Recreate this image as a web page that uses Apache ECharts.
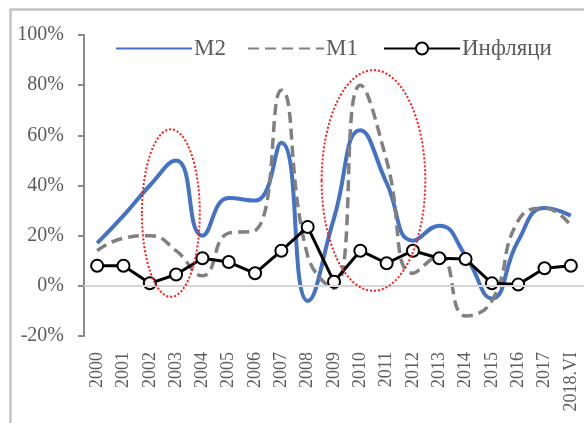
<!DOCTYPE html>
<html>
<head>
<meta charset="utf-8">
<script src="https://cdn.jsdelivr.net/npm/echarts@6/dist/echarts.min.js"></script>
<style>
html,body{margin:0;padding:0;background:#fff;}
#main{width:584px;height:423px;}
</style>
</head>
<body>
<div id="main"></div>
<script>
var categories = ['2000','2001','2002','2003','2004','2005','2006','2007','2008','2009','2010','2011','2012','2013','2014','2015','2016','2017','2018.VI'];
var m2 = [17, 28, 40, 50, 20, 35, 34, 57, -6, 27, 62, 41, 18, 24, 12, -5, 18, 31, 28];
var m1 = [14, 19, 20, 14, 4, 21, 22, 78, 12, -1, 80, 50, 5, 12, -12, -6, 26, 31, 24];
var inflation = [8, 8, 1, 4.5, 11, 9.5, 5, 14, 23.5, 1.6, 14, 9, 14, 11, 10.7, 1, 0.5, 7, 8];
var seriesNames = ['M2', 'M1', 'Инфляци'];
var yTicks = {min: -20, max: 100, interval: 20};
// annotation ellipses: centre (category index, value), radii (categories, value units)
var ellipses = [
  {cx: 2.8, cy: 29, rx: 1.1, ry: 33.4},
  {cx: 10.5, cy: 42, rx: 1.97, ry: 44}
];

var textColor = '#5c5c5c';
var font = 'Liberation Serif';
var chart = echarts.init(document.getElementById('main'));

function legendFor(name, left, hideSymbol) {
  var l = {
    data: [name], left: left, top: 32,
    itemWidth: 76, itemHeight: 15,
    textStyle: {fontFamily: font, fontSize: 23, color: textColor, padding: [0, 0, 0, -3]}
  };
  if (hideSymbol) l.itemStyle = {opacity: 0};
  return l;
}

var option = {
  animation: false,
  backgroundColor: '#fff',
  textStyle: {fontFamily: font},
  grid: {left: 84, right: -2, top: 35, bottom: 87},
  legend: [
    legendFor(seriesNames[0], 110, true),
    legendFor(seriesNames[1], 242, true),
    legendFor(seriesNames[2], 378, false)
  ],
  xAxis: {
    type: 'category',
    data: categories,
    position: 'bottom',
    axisLine: {show: false, onZero: false},
    axisTick: {show: false},
    axisLabel: {rotate: 90, margin: 16, fontFamily: font, fontSize: 18, color: textColor, interval: 0}
  },
  yAxis: {
    type: 'value',
    min: yTicks.min, max: yTicks.max, interval: yTicks.interval,
    splitLine: {show: false},
    axisLine: {show: true, lineStyle: {color: '#8a8a8a', width: 2}},
    axisTick: {show: true, length: 6, lineStyle: {color: '#8a8a8a', width: 2}},
    axisLabel: {formatter: '{value}%', margin: 20, fontFamily: font, fontSize: 20, color: textColor}
  },
  series: [
    {
      name: 'zero', type: 'line', data: [], z: 1, silent: true,
      markLine: {silent: true, symbol: 'none', label: {show: false},
        lineStyle: {color: '#d6d6d6', width: 2, type: 'solid'}, data: [{yAxis: 0}]}
    },
    {
      name: seriesNames[0], type: 'line', data: m2, smooth: 0.5, showSymbol: false, symbol: 'none', z: 2,
      itemStyle: {color: '#4472C4'},
      lineStyle: {color: '#4472C4', width: 4}
    },
    {
      name: seriesNames[1], type: 'line', data: m1, smooth: 0.5, showSymbol: false, symbol: 'none', z: 3,
      itemStyle: {color: '#808080'},
      lineStyle: {color: '#808080', width: 3.5, type: [11, 6]}
    },
    {
      name: seriesNames[2], type: 'line', data: inflation, z: 4,
      symbol: 'circle', symbolSize: 12,
      itemStyle: {color: '#fff', borderColor: '#000', borderWidth: 2},
      lineStyle: {color: '#000', width: 3}
    }
  ]
};
chart.setOption(option);

function px(idx, val) {
  var i0 = Math.floor(idx), f = idx - i0;
  var a = chart.convertToPixel({gridIndex: 0}, [i0, val]);
  var b = chart.convertToPixel({gridIndex: 0}, [i0 + 1, val]);
  return [a[0] + f * (b[0] - a[0]), a[1]];
}
var graphics = [{
  type: 'rect', left: 8, top: 7, z: 100, silent: true,
  shape: {width: 640, height: 480},
  style: {fill: 'none', stroke: '#c4c4c4', lineWidth: 2.5}
}];
ellipses.forEach(function (e) {
  var c = px(e.cx, e.cy);
  var r = px(e.cx + e.rx, e.cy + e.ry);
  graphics.push({
    type: 'ellipse', z: 50, silent: true,
    shape: {cx: c[0], cy: c[1], rx: Math.abs(r[0] - c[0]), ry: Math.abs(c[1] - r[1])},
    style: {fill: 'none', stroke: '#ff1a1a', lineWidth: 2, lineDash: [2, 2]}
  });
});
chart.setOption({graphic: graphics});
</script>
</body>
</html>
